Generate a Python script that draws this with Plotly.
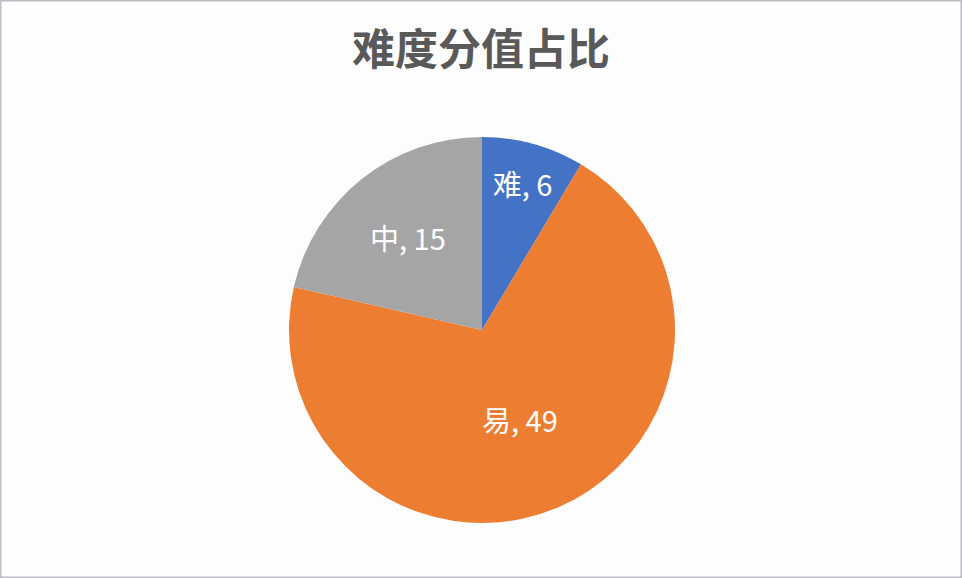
import plotly.graph_objects as go

# data
LEVELS = ["难", "易", "中"]
SCORES = [6, 49, 15]
SLICE_COLOURS = ["#4472C4", "#ED7D31", "#A5A5A5"]

TITLE = "难度分值占比"
FONT = "Noto Sans CJK SC, Microsoft YaHei, sans-serif"

fig = go.Figure(
    go.Pie(
        labels=LEVELS,
        values=SCORES,
        sort=False,
        direction="clockwise",
        rotation=0,
        marker={"colors": SLICE_COLOURS, "line": {"width": 0}},
        texttemplate="%{label}, %{value}",
        textposition="inside",
        insidetextorientation="horizontal",
        textfont={"color": "white", "size": 29, "family": FONT},
        domain={"x": [0.3004, 0.7017], "y": [0.0952, 0.763]},
        showlegend=False,
        hoverinfo="label+value+percent",
    )
)

fig.update_layout(
    width=962,
    height=578,
    margin={"l": 0, "r": 0, "t": 0, "b": 0},
    paper_bgcolor="#fdfdfe",
    plot_bgcolor="#fdfdfe",
    title={
        "text": f"<b>{TITLE}</b>",
        "font": {"size": 43, "color": "#595959", "family": FONT},
        "x": 0.5,
        "xanchor": "center",
        "y": 1 - 50 / 578,
        "yanchor": "middle",
    },
    # thin frame round the whole picture
    shapes=[{
        "type": "rect",
        "xref": "paper", "yref": "paper",
        "x0": 0, "x1": 1, "y0": 0, "y1": 1,
        "line": {"color": "#bcbcc4", "width": 3},
    }],
)

fig.write_html("out.html", config={"displayModeBar": False})

# drop the default body margin so the figure fills the window exactly
with open("out.html", encoding="utf-8") as file:
    page = file.read()
page = page.replace("<body>", '<body style="margin:0;overflow:hidden">', 1)
with open("out.html", "w", encoding="utf-8") as file:
    file.write(page)
